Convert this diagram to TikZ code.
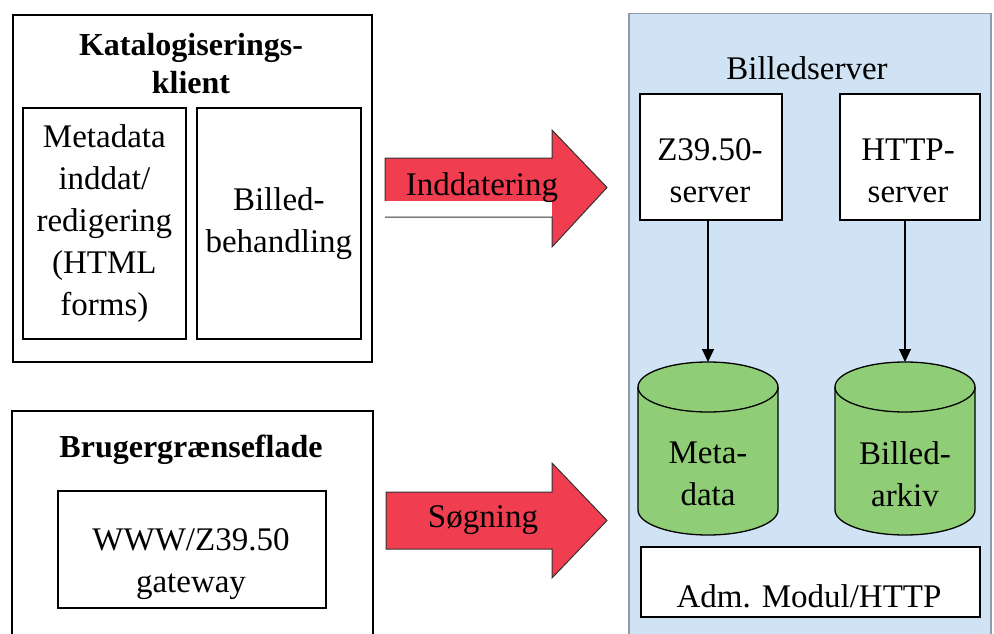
\documentclass[tikz,border=0pt]{standalone}
\usepackage{fontspec}
\setmainfont{Liberation Serif}
\usetikzlibrary{arrows.meta}
\definecolor{panelblue}{HTML}{CFE3F4}
\definecolor{panelline}{HTML}{8E9AA6}
\definecolor{cylgreen}{HTML}{8FCE76}
\definecolor{arrowred}{HTML}{F03E50}
\newcommand\mycyl[1]{%
  \fill[cylgreen] (#1-70,-387) -- (#1-70,-510) arc[start angle=180,end angle=360,x radius=70,y radius=25] -- (#1+70,-387) -- cycle;
  \fill[cylgreen] (#1,-387) ellipse[x radius=70,y radius=25];
  \draw[cylline] (#1-70,-387) -- (#1-70,-510) arc[start angle=180,end angle=360,x radius=70,y radius=25] -- (#1+70,-387);
  \draw[cylline] (#1,-387) ellipse[x radius=70,y radius=25];
}
\begin{document}
\begin{tikzpicture}[x=1pt,y=1pt,
  box/.style={draw=black, line width=1.7pt, fill=white, inner sep=0pt, anchor=north west},
  txt/.style={font=\fontsize{33}{42}\selectfont, align=center, inner sep=0pt},
  ttl/.style={font=\fontsize{32}{38}\selectfont\bfseries, align=center, inner sep=0pt},
  cylline/.style={draw=black, line width=1.3pt},
  arrowline/.style={draw=black!80, line width=1pt},
  conn/.style={draw=black, line width=1.2pt, -{Triangle[length=13pt,width=12pt]}}]
\useasboundingbox (0,0) rectangle (994,-634);
\clip (0,0) rectangle (994,-634);
\fill[white] (0,0) rectangle (994,-634);

% left upper block
\node[box, minimum width=359, minimum height=347] (kat) at (12,-14) {};
\node[ttl] (kattitle) at (191,-64) {Katalogiserings-\\klient};
\node[box, txt, minimum width=163, minimum height=231] (meta) at (22,-107) {Metadata\\inddat/\\redigering\\(HTML\\forms)};
\node[box, txt, minimum width=164, minimum height=231] (bbeh) at (196,-107) {Billed-\\behandling};

% left lower block
\node[box, minimum width=361, minimum height=250] (brug) at (11,-410) {};
\node[ttl] (brugtitle) at (191,-450) {Brugergrænseflade};
\node[box, minimum width=268, minimum height=117] (gw) at (57,-490) {};
\node[txt] (gwtext) at (191,-564) {WWW/Z39.50\\gateway};

% red arrows
\fill[arrowred] (385,-158) -- (552,-158) -- (552,-130) -- (607,-187.5) -- (552,-247) -- (552,-217) -- (385,-217) -- cycle;
\fill[white] (385,-201) rectangle (552,-249);
\draw[arrowline] (385,-201) -- (385,-158) -- (552,-158) -- (552,-130) -- (607,-187.5) -- (552,-247) -- (552,-217) -- (385,-217);
\node[txt] (indd) at (482,-188) {Inddatering};

\fill[arrowred] (386,-492) -- (552,-492) -- (552,-463) -- (607,-520.5) -- (552,-578) -- (552,-549) -- (386,-549) -- cycle;
\draw[arrowline] (386,-492) -- (552,-492) -- (552,-463) -- (607,-520.5) -- (552,-578) -- (552,-549) -- (386,-549) -- cycle;
\node[txt] (sogn) at (483,-520) {Søgning};

% right panel
\node[draw=panelline, fill=panelblue, line width=1.5pt, inner sep=0pt, anchor=north west, minimum width=362, minimum height=650] (panel) at (628,-13) {};
\node[txt] (bsrv) at (807,-68) {Billedserver};
\node[box, minimum width=142, minimum height=126] (zsrv) at (639,-93) {};
\node[txt] (zsrvtext) at (710,-171) {Z39.50-\\server};
\node[box, minimum width=140, minimum height=126] (hsrv) at (839,-93) {};
\node[txt] (hsrvtext) at (908,-171) {HTTP-\\server};

\mycyl{708}
\mycyl{905}
\coordinate (cyl1top) at (708,-362);
\coordinate (cyl2top) at (905,-362);
\node[txt] (mdtext) at (708,-474) {Meta-\\data};
\node[txt] (batext) at (905,-474) {Billed-\\arkiv};

\draw[conn] (zsrv.south -| cyl1top) -- (cyl1top);
\draw[conn] (hsrv.south -| cyl2top) -- (cyl2top);

\node[box, minimum width=339, minimum height=70] (adm) at (640,-546) {};
\node[txt] (admtext) at (809,-596) {Adm. Modul/HTTP};
\end{tikzpicture}
\end{document}
